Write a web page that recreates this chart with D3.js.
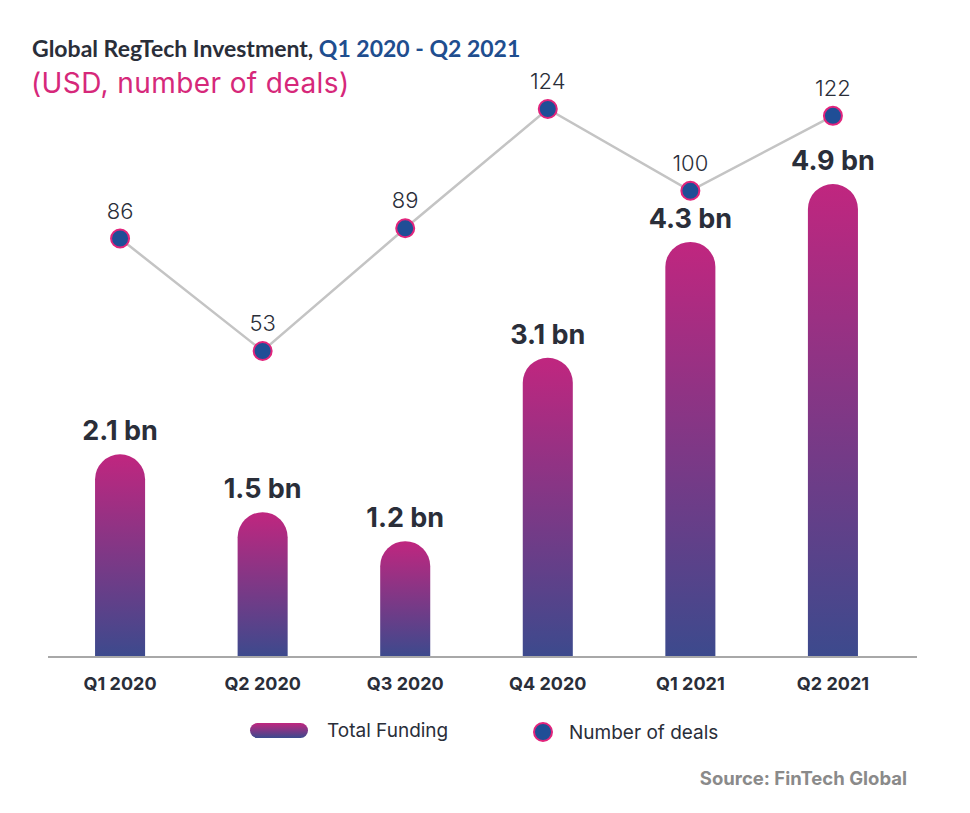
<!DOCTYPE html>
<html><head><meta charset="utf-8">
<script src="https://cdn.jsdelivr.net/npm/d3@7"></script>
<style>body{margin:0;background:#fff;}svg{display:block;font-family:Inter,"Open Sans",sans-serif;}</style>
</head><body><div id="chart"></div>
<script>
const categories = ["Q1 2020","Q2 2020","Q3 2020","Q4 2020","Q1 2021","Q2 2021"];
const funding = [2.1, 1.5, 1.2, 3.1, 4.3, 4.9];
const fundingLabels = ["2.1 bn","1.5 bn","1.2 bn","3.1 bn","4.3 bn","4.9 bn"];
const deals = [86, 53, 89, 124, 100, 122];

const W = 970, H = 813;
const svg = d3.select("#chart").append("svg").attr("width", W).attr("height", H);
const defs = svg.append("defs");
["barGrad","legGrad"].forEach(id => {
  const g = defs.append("linearGradient").attr("id", id).attr("x1",0).attr("y1",0).attr("x2",0).attr("y2",1);
  g.append("stop").attr("offset","0%").attr("stop-color","#c0267f");
  g.append("stop").attr("offset","100%").attr("stop-color","#3c4a8d");
});

const x = d3.scaleBand().domain(categories).range([48, 905]).paddingInner(0.649).paddingOuter(0.33);
const baseY = 657;
const yF = d3.scaleLinear().domain([0, 4.9]).range([baseY, 184]);
const yD = d3.scaleLinear().domain([53, 124]).range([351, 109]);

// title
const t = svg.append("text").attr("x", 32).attr("y", 57).attr("font-size", 23).attr("font-weight", 700)
  .attr("font-family", "Lato, Inter, sans-serif").attr("fill", "#2a2e39");
t.append("tspan").text("Global RegTech Investment, ");
t.append("tspan").attr("fill", "#1f4e8f").text("Q1 2020 - Q2 2021");
svg.append("text").attr("x", 31).attr("y", 93).attr("font-size", 28).attr("letter-spacing", 0.4).attr("fill", "#d6287a").text("(USD, number of deals)");

// bars
const bw = x.bandwidth();
const r = bw/2;
svg.append("g").selectAll("path").data(funding).join("path")
  .attr("d", (d,i) => {
    const x0 = x(categories[i]), y0 = yF(d);
    return `M${x0},${baseY} L${x0},${y0 + r} A${r},${r} 0 0 1 ${x0 + bw},${y0 + r} L${x0 + bw},${baseY} Z`;
  })
  .attr("fill", "url(#barGrad)");

svg.append("g").selectAll("text").data(funding).join("text")
  .attr("x", (d,i) => x(categories[i]) + bw/2)
  .attr("y", d => yF(d) - 14)
  .attr("text-anchor", "middle").attr("font-size", 27).attr("font-weight", 700).attr("fill", "#2a2e39")
  .text((d,i) => fundingLabels[i]);

// axis
const axis = svg.append("g").attr("transform", `translate(0,${baseY})`)
  .call(d3.axisBottom(x).tickSize(0).tickPadding(20));
axis.select(".domain").attr("stroke", "#a8a8a8").attr("stroke-width", 2).attr("d", "M48,0H917");
axis.selectAll("text").attr("font-size", 18).attr("font-weight", 700).attr("fill", "#2a2e39").attr("font-family", "Inter, sans-serif");

// line
const line = d3.line().x((d,i) => x(categories[i]) + bw/2).y(d => yD(d));
svg.append("path").datum(deals).attr("d", line).attr("fill", "none").attr("stroke", "#c4c4c4").attr("stroke-width", 2.5);
svg.append("g").selectAll("circle").data(deals).join("circle")
  .attr("cx", (d,i) => x(categories[i]) + bw/2).attr("cy", d => yD(d)).attr("r", 9)
  .attr("fill", "#1f4e96").attr("stroke", "#e2247c").attr("stroke-width", 2);
svg.append("g").selectAll("text").data(deals).join("text")
  .attr("x", (d,i) => x(categories[i]) + bw/2).attr("y", d => yD(d) - 20)
  .attr("text-anchor", "middle").attr("font-size", 22).attr("font-weight", 300).attr("fill", "#2a2e39").text(d => d);

// legend
svg.append("rect").attr("x", 250).attr("y", 723).attr("width", 58).attr("height", 15).attr("rx", 7.5).attr("fill", "url(#legGrad)");
svg.append("text").attr("x", 327).attr("y", 737).attr("font-size", 19).attr("fill", "#2a2e39").text("Total Funding");
svg.append("circle").attr("cx", 543).attr("cy", 732).attr("r", 9).attr("fill", "#1f4e96").attr("stroke", "#e2247c").attr("stroke-width", 2);
svg.append("text").attr("x", 569).attr("y", 739).attr("font-size", 19).attr("fill", "#2a2e39").text("Number of deals");

svg.append("text").attr("x", 907).attr("y", 785).attr("text-anchor", "end").attr("font-size", 18.5).attr("font-weight", 700).attr("fill", "#8a8a8a").text("Source: FinTech Global");
</script></body></html>
